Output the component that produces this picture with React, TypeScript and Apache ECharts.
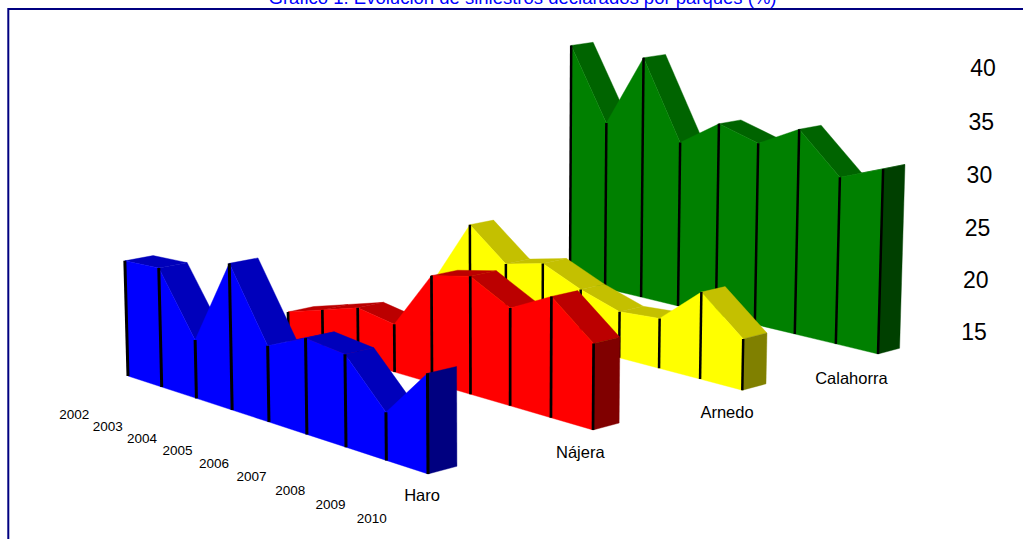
import React, { useEffect, useRef } from "react";
import * as echarts from "echarts";

const titleText = "Gráfico 1. Evolución de siniestros declarados por parques (%)";
const years = ["2002", "2003", "2004", "2005", "2006", "2007", "2008", "2009", "2010"];
const parks = ["Haro", "Nájera", "Arnedo", "Calahorra"];
const valueTicks = [15, 20, 25, 30, 35, 40];

const haro = [25.5, 25.7, 20.2, 27.8, 21.6, 23.2, 22.8, 19.0, 23.2];
const najera = [17.8, 18.9, 20.0, 19.4, 24.7, 25.5, 23.6, 25.5, 22.4];
const arnedo = [18.1, 24.2, 21.2, 22.1, 20.5, 19.3, 19.6, 22.9, 19.6];
const calahorra = [39.0, 31.8, 38.9, 31.2, 33.7, 32.5, 34.5, 30.7, 32.2];
const parkValues = [haro, najera, arnedo, calahorra];

const frontColors = ["#0000ff", "#ff0000", "#ffff00", "#008000"];
const topColors = ["#0000bb", "#bb0000", "#c4c000", "#006400"];
const sideColors = ["#000080", "#800000", "#808000", "#004000"];
const edgeWidths = [3, 2.7, 2.5, 2.5];
const parkLabelDepth = [-0.035, 0.92, 1.895, 2.8];

// camera: floor homography, from the four floor corners of the picture
const floorCorners = [[128, 376], [428, 474], [878, 354], [570, 280]];
const zFloor = 15;
const zScale = 10.9;
const zVanish = [500, 14000];
const bandDepth = 0.168;

const [[x0, y0], [x1, y1], [x2, y2], [x3, y3]] = floorCorners;
const dx1 = x1 - x2, dx2 = x3 - x2, sx = x0 - x1 + x2 - x3;
const dy1 = y1 - y2, dy2 = y3 - y2, sy = y0 - y1 + y2 - y3;
const det = dx1 * dy2 - dx2 * dy1;
const g = (sx * dy2 - dx2 * sy) / det;
const h = (dx1 * sy - sx * dy1) / det;
const a = x1 - x0 + g * x1, b = x3 - x0 + h * x3;
const d = y1 - y0 + g * y1, e = y3 - y0 + h * y3;
const r = -zScale / (zVanish[1] - 350);

function project(year: number, park: number, value: number): [number, number] {
  const s = year / 8, t = park / 3, z = value - zFloor;
  const w = 1 + g * s + h * t + r * z;
  return [
    (a * s + b * t + x0 + r * zVanish[0] * z) / w,
    (d * s + e * t + y0 + r * zVanish[1] * z) / w,
  ];
}

function area(p: number[][]) {
  let sum = 0;
  p.forEach((q, i) => {
    const n = p[(i + 1) % p.length];
    sum += q[0] * n[1] - n[0] * q[1];
  });
  return sum / 2;
}

function wallSeries(parkIndex: number) {
  const values = parkValues[parkIndex];
  const data = values.map((v, i) => [i, v]);
  const base = { type: "custom", coordinateSystem: "cartesian2d", silent: true, data };

  const tops = {
    ...base,
    name: parks[parkIndex] + " top",
    renderItem: (_: any, api: any) => {
      const i = api.value(0);
      if (i >= values.length - 1) return { type: "group", children: [] };
      const pts = [
        project(i, parkIndex, values[i]),
        project(i + 1, parkIndex, values[i + 1]),
        project(i + 1, parkIndex + bandDepth, values[i + 1]),
        project(i, parkIndex + bandDepth, values[i]),
      ];
      if (area(pts) > 0) return { type: "group", children: [] };
      return {
        type: "polygon",
        shape: { points: pts.map((p) => api.coord(p)) },
        style: { fill: topColors[parkIndex], stroke: topColors[parkIndex], lineWidth: 0.4 },
      };
    },
  };

  const fronts = {
    ...base,
    name: parks[parkIndex] + " front",
    renderItem: (_: any, api: any) => {
      const i = api.value(0);
      const last = i === values.length - 1;
      const pts = last
        ? [
            project(i, parkIndex, zFloor),
            project(i, parkIndex, values[i]),
            project(i, parkIndex + bandDepth, values[i]),
            project(i, parkIndex + bandDepth, zFloor),
          ]
        : [
            project(i, parkIndex, zFloor),
            project(i, parkIndex, values[i]),
            project(i + 1, parkIndex, values[i + 1]),
            project(i + 1, parkIndex, zFloor),
          ];
      const fill = last ? sideColors[parkIndex] : frontColors[parkIndex];
      return {
        type: "polygon",
        shape: { points: pts.map((p) => api.coord(p)) },
        style: { fill, stroke: fill, lineWidth: 0.4 },
      };
    },
  };

  const edges = {
    ...base,
    name: parks[parkIndex] + " edge",
    renderItem: (_: any, api: any) => {
      const i = api.value(0);
      const p = api.coord(project(i, parkIndex, zFloor));
      const q = api.coord(project(i, parkIndex, values[i]));
      return {
        type: "line",
        shape: { x1: p[0], y1: p[1], x2: q[0], y2: q[1] },
        style: { stroke: "#000000", lineWidth: edgeWidths[parkIndex] },
      };
    },
  };
  return [tops, fronts, edges];
}

function labelSeries(
  name: string,
  labels: (string | number)[],
  place: (i: number) => [number, number],
  fontSize: number
) {
  return {
    type: "custom",
    name,
    coordinateSystem: "cartesian2d",
    silent: true,
    data: labels.map((_, i) => [i, 0]),
    renderItem: (_: any, api: any) => {
      const i = api.value(0);
      const p = api.coord(place(i));
      return {
        type: "text",
        x: p[0],
        y: p[1],
        style: {
          text: String(labels[i]),
          fill: "#000000",
          fontSize,
          fontFamily: "Liberation Sans",
          textAlign: "center",
          textVerticalAlign: "middle",
        },
      };
    },
  };
}

export default function App() {
  const ref = useRef<HTMLDivElement>(null);
  useEffect(() => {
    const chart = echarts.init(ref.current!, undefined, { renderer: "svg" });
    const series: any[] = [];
    [3, 2, 1, 0].forEach((p) => series.push(...wallSeries(p)));
    series.push(labelSeries("years", years, (i) => project(i, -0.32, zFloor - 2.4), 13.5));
    series.push(
      labelSeries("parks", parks, (i) => project(8, parkLabelDepth[i], zFloor - 1.62), 16.5)
    );
    series.push(
      labelSeries("ticks", valueTicks, (i) => project(8.3, 3.66, valueTicks[i] + 0.25), 23)
    );
    chart.setOption({
      animation: false,
      backgroundColor: "#ffffff",
      grid: { left: 0, right: 0, top: 0, bottom: 0 },
      xAxis: { type: "value", min: 0, max: 1023, show: false },
      yAxis: { type: "value", min: 0, max: 539, inverse: true, show: false },
      graphic: [
        {
          type: "rect",
          silent: true,
          shape: { x: 8.3, y: 9, width: 1200, height: 800 },
          style: { fill: "none", stroke: "#000080", lineWidth: 2 },
        },
        {
          type: "text",
          silent: true,
          x: 522.5,
          y: -3,
          style: {
            text: titleText,
            fill: "#0000ff",
            fontSize: 18.5,
            fontFamily: "Liberation Sans",
            textAlign: "center",
            textVerticalAlign: "middle",
          },
        },
      ],
      series,
    });
    return () => chart.dispose();
  }, []);
  return (
    <div
      ref={ref}
      style={{ position: "fixed", left: 0, top: 0, width: 1023, height: 539, overflow: "hidden" }}
    />
  );
}
